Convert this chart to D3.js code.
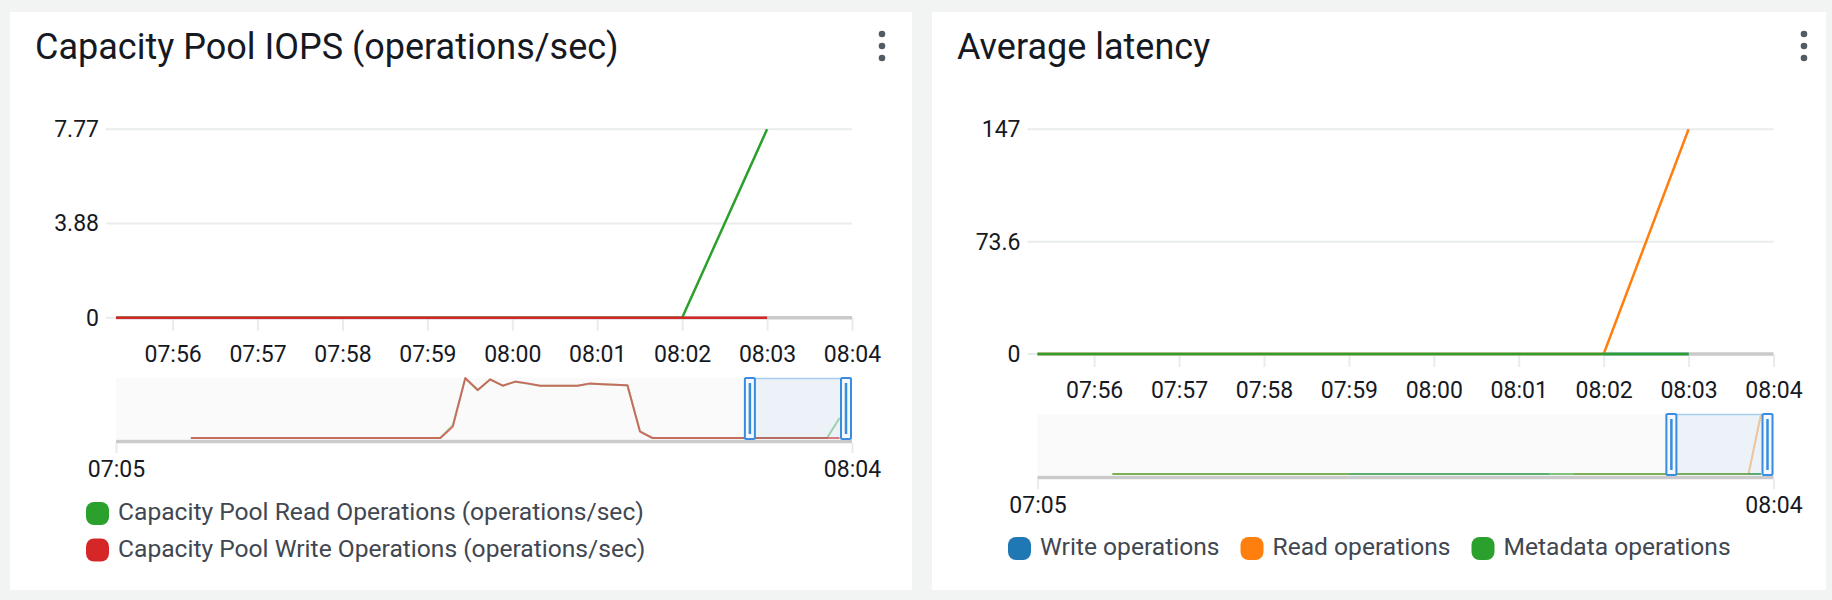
<!DOCTYPE html>
<html>
<head>
<meta charset="utf-8">
<script src="https://cdn.jsdelivr.net/npm/d3@7"></script>
<style>
  body { margin: 0; background: #f2f3f3; font-family: Roboto, "Noto Sans", sans-serif; }
  svg { display: block; }
</style>
</head>
<body>
<svg id="chart" width="1832" height="600"></svg>
<script>
// one value per minute, from 07:11 to 08:03 (null = no datapoint)
const firstMinute = "07:11";

const iopsRead = [
  0, 0, 0, 0, 0, 0, 0, 0, 0, 0, 0, 0, 0, 0, 0, 0, 0, 0, 0, 0, 0,
  5.1, 23.2, 18.6, 22.8, 20.4, 21.9, 21.2, 20.4, 20.4, 20.4, 20.4, 21.2, 21.0, 20.8, 20.5, 2.7,
  0, 0, 0, 0, 0, 0, 0, 0, 0, 0, 0, 0, 0, 0, 0,
  7.77
];
const iopsWrite = [
  0, 0, 0, 0, 0, 0, 0, 0, 0, 0, 0, 0, 0, 0, 0, 0, 0, 0, 0, 0, 0,
  4.4, 23.4, 18.7, 22.9, 20.4, 22.0, 21.3, 20.4, 20.4, 20.4, 20.4, 21.3, 21.0, 20.8, 20.6, 2.5,
  0, 0, 0, 0, 0, 0, 0, 0, 0, 0, 0, 0, 0, 0, 0,
  0
];

const latencyWrite = [
  null, null, null, null, null, null, null, null, null, null, null, null, null, null, null, null, null, null, null,
  0, 0, 0, 0, 0, 0, 0, 0, 0, 0, 0, 0, 0, 0, 0, 0, 0,
  null, null, null, null, null, null, null, null, null, null, null, null, null, null, null,
  0, 0
];
const latencyRead = [
  0, 0, 0, 0, 0, 0, 0, 0, 0, 0, 0, 0, 0, 0, 0, 0, 0, 0, 0, 0,
  null, null, null, null, null, null, null, null, null, null, null, null, null, null, null, null, null,
  0, 0, 0, 0, 0, 0, 0, 0, 0, 0, 0, 0, 0, 0, 0,
  147.2
];
const latencyMeta = [
  0, 0, 0, 0, 0, 0, 0, 0, 0, 0, 0, 0, 0, 0, 0, 0, 0, 0, 0, 0,
  0, 0, 0, 0, 0, 0, 0, 0, 0, 0, 0, 0, 0, 0, 0, 0, 0,
  0, 0, 0, 0, 0, 0, 0, 0, 0, 0, 0, 0, 0, 0, 0,
  0
];

// zoomed window (main chart) and full window (navigator)
const zoomRange = ["07:55:20", "08:04"];
const navRange = ["07:05", "08:04"];
const timeTicks = ["07:56", "07:57", "07:58", "07:59", "08:00", "08:01", "08:02", "08:03", "08:04"];

const iopsTicks = [0, 3.885, 7.77];
const iopsTickLabels = ["0", "3.88", "7.77"];
const latencyTicks = [0, 73.6, 147.2];
const latencyTickLabels = ["0", "73.6", "147"];

const iopsSeries = ["Capacity Pool Read Operations (operations/sec)", "Capacity Pool Write Operations (operations/sec)"];
const latencySeries = ["Write operations", "Read operations", "Metadata operations"];

const parseHM = d3.timeParse("%H:%M");
const parseHMS = d3.timeParse("%H:%M:%S");
const toTime = s => s.length > 5 ? parseHMS(s) : parseHM(s);

const svg = d3.select("#chart");

function drawPanel(p) {
  const g = svg.append("g");

  // card
  g.append("rect")
    .attr("x", p.card[0]).attr("y", p.card[1])
    .attr("width", p.card[2]).attr("height", p.card[3])
    .attr("fill", "#fff");

  g.append("text")
    .attr("x", p.card[0] + 25).attr("y", 59)
    .attr("font-size", 36)
    .attr("fill", "#16191f")
    .text(p.title);

  g.selectAll(".dot")
    .data([34, 46, 58])
    .join("circle")
    .attr("cx", p.dotsX).attr("cy", d => d)
    .attr("r", 3.3)
    .attr("fill", "#545b64");

  const x = d3.scaleTime().domain(zoomRange.map(toTime)).range(p.plotX);
  const y = d3.scaleLinear().domain([0, p.yTicks[p.yTicks.length - 1]]).range(p.plotY);
  const [x0, x1] = p.plotX;

  // gridlines
  g.selectAll(".grid")
    .data(p.yTicks)
    .join("line")
    .attr("x1", x0 - 10).attr("x2", x1)
    .attr("y1", d => y(d)).attr("y2", d => y(d))
    .attr("stroke", "#eaeded").attr("stroke-width", 2);

  // y axis labels
  const yAxis = g.append("g")
    .attr("transform", `translate(${x0},0)`)
    .call(d3.axisLeft(y).tickValues(p.yTicks).tickFormat((d, i) => p.yLabels[i]).tickSize(0).tickPadding(17));
  yAxis.select(".domain").remove();
  yAxis.selectAll("text")
    .attr("font-family", "Roboto, sans-serif")
    .attr("font-size", 23)
    .attr("fill", "#16191f");

  // x axis
  const xAxis = g.append("g")
    .attr("transform", `translate(0,${p.plotY[0]})`)
    .call(d3.axisBottom(x).tickValues(timeTicks.map(toTime)).tickFormat(d3.timeFormat("%H:%M")).tickSize(13));
  xAxis.select(".domain").remove();
  xAxis.selectAll("line").attr("stroke", "#e9ebed").attr("stroke-width", 2);
  xAxis.selectAll("text")
    .attr("y", 44).attr("dy", null)
    .attr("font-family", "Roboto, sans-serif")
    .attr("font-size", 23)
    .attr("fill", "#16191f");

  // thick baseline
  g.append("line")
    .attr("x1", x0).attr("x2", x1)
    .attr("y1", y(0)).attr("y2", y(0))
    .attr("stroke", "#cacaca").attr("stroke-width", 3.5);

  const clipId = "clip" + p.id;
  g.append("clipPath").attr("id", clipId)
    .append("rect")
    .attr("x", x0).attr("y", p.plotY[1] - 5)
    .attr("width", x1 - x0).attr("height", p.plotY[0] - p.plotY[1] + 10);

  const rows = p.series.map(s => s.values.map((v, i) => ({
    t: d3.timeMinute.offset(toTime(firstMinute), i), v
  })));

  const line = d3.line()
    .defined(d => d.v !== null)
    .x(d => x(d.t))
    .y(d => y(d.v));

  g.append("g").attr("clip-path", `url(#${clipId})`)
    .selectAll("path")
    .data(p.drawOrder)
    .join("path")
    .attr("d", k => line(rows[k]))
    .attr("fill", "none")
    .attr("stroke", k => p.series[k].color)
    .attr("stroke-width", 2.5)
    .attr("stroke-linejoin", "round");

  // navigator
  const [nb, nt] = p.navY;
  const xn = d3.scaleTime().domain(navRange.map(toTime)).range(p.plotX);
  const allVals = p.series.flatMap(s => s.values).filter(v => v !== null);
  const yn = d3.scaleLinear().domain([0, d3.max(allVals)]).range([nb, nt]);

  g.append("rect")
    .attr("x", x0).attr("y", nt)
    .attr("width", x1 - x0).attr("height", nb - nt + 1)
    .attr("fill", "#fafafa");

  const navLine = d3.line()
    .defined(d => d.v !== null)
    .x(d => xn(d.t))
    .y(d => yn(d.v));

  // lower series fainter, top one a little stronger
  g.append("g")
    .selectAll("path")
    .data(p.drawOrder)
    .join("path")
    .attr("d", k => navLine(rows[k]))
    .attr("fill", "none")
    .attr("stroke", k => p.series[k].color)
    .attr("stroke-opacity", (k, i) => i === p.drawOrder.length - 1 ? 0.6 : 0.4)
    .attr("stroke-width", 2)
    .attr("stroke-linejoin", "round");

  g.append("line")
    .attr("x1", x0).attr("x2", x1)
    .attr("y1", nb + 3.5).attr("y2", nb + 3.5)
    .attr("stroke", "#cacaca").attr("stroke-width", 3.5);

  const navAxis = g.append("g")
    .attr("transform", `translate(0,${nb + 5})`)
    .call(d3.axisBottom(xn).tickValues(navRange.map(toTime)).tickFormat(d3.timeFormat("%H:%M")).tickSize(10));
  navAxis.select(".domain").remove();
  navAxis.selectAll("line").attr("stroke", "#e9ebed").attr("stroke-width", 2);
  navAxis.selectAll("text")
    .attr("y", 34).attr("dy", null)
    .attr("font-family", "Roboto, sans-serif")
    .attr("font-size", 23)
    .attr("fill", "#16191f");

  // brush selection
  const bx0 = xn(toTime(zoomRange[0])), bx1 = xn(toTime(zoomRange[1]));
  g.append("rect")
    .attr("x", bx0).attr("y", nt)
    .attr("width", bx1 - bx0).attr("height", nb - nt + 1)
    .attr("fill", "rgba(0,110,220,0.055)");
  g.append("line")
    .attr("x1", bx0).attr("x2", bx1)
    .attr("y1", nt + 0.5).attr("y2", nt + 0.5)
    .attr("stroke", "#a9cdf1").attr("stroke-width", 1.5);

  const handles = g.selectAll(".handle")
    .data([bx0 + 1, bx1 - 11])
    .join("g");
  handles.append("rect")
    .attr("x", d => d).attr("y", nt)
    .attr("width", 10).attr("height", nb - nt + 1)
    .attr("rx", 1.5)
    .attr("fill", "#f5f9fd")
    .attr("stroke", "#3a8ce0").attr("stroke-width", 2);
  handles.append("line")
    .attr("x1", d => d + 5).attr("x2", d => d + 5)
    .attr("y1", nt + 5).attr("y2", nb - 4)
    .attr("stroke", "#3a8ce0").attr("stroke-width", 2.5);

  // legend
  const legend = g.append("g");
  let lx = p.legend.x, ly = p.legend.y;
  p.series.forEach(s => {
    legend.append("rect")
      .attr("x", lx).attr("y", ly - 18)
      .attr("width", 23).attr("height", 23)
      .attr("rx", 8)
      .attr("fill", s.color);
    const t = legend.append("text")
      .attr("x", lx + 32).attr("y", ly)
      .attr("font-size", 24.6)
      .attr("fill", "#414750")
      .text(s.name);
    if (p.legend.horizontal) {
      lx += 32 + t.node().getComputedTextLength() + 21;
    } else {
      ly += 36.5;
    }
  });
}

drawPanel({
  id: "iops",
  card: [10, 12, 902, 578],
  title: "Capacity Pool IOPS (operations/sec)",
  dotsX: 882,
  plotX: [116, 852],
  plotY: [317.7, 129.3],
  yTicks: iopsTicks,
  yLabels: iopsTickLabels,
  navY: [438, 378],
  series: [
    { name: iopsSeries[0], values: iopsRead, color: "#2ca02c" },
    { name: iopsSeries[1], values: iopsWrite, color: "#d62728" }
  ],
  drawOrder: [0, 1],
  legend: { x: 86, y: 520, horizontal: false }
});

drawPanel({
  id: "latency",
  card: [932, 12, 894, 578],
  title: "Average latency",
  dotsX: 1804,
  plotX: [1037.5, 1773.5],
  plotY: [354, 129.3],
  yTicks: latencyTicks,
  yLabels: latencyTickLabels,
  navY: [474, 414],
  series: [
    { name: latencySeries[0], values: latencyWrite, color: "#1f77b4" },
    { name: latencySeries[1], values: latencyRead, color: "#ff7f0e" },
    { name: latencySeries[2], values: latencyMeta, color: "#2ca02c" }
  ],
  drawOrder: [0, 1, 2],
  legend: { x: 1008, y: 555, horizontal: true }
});
</script>
</body>
</html>
